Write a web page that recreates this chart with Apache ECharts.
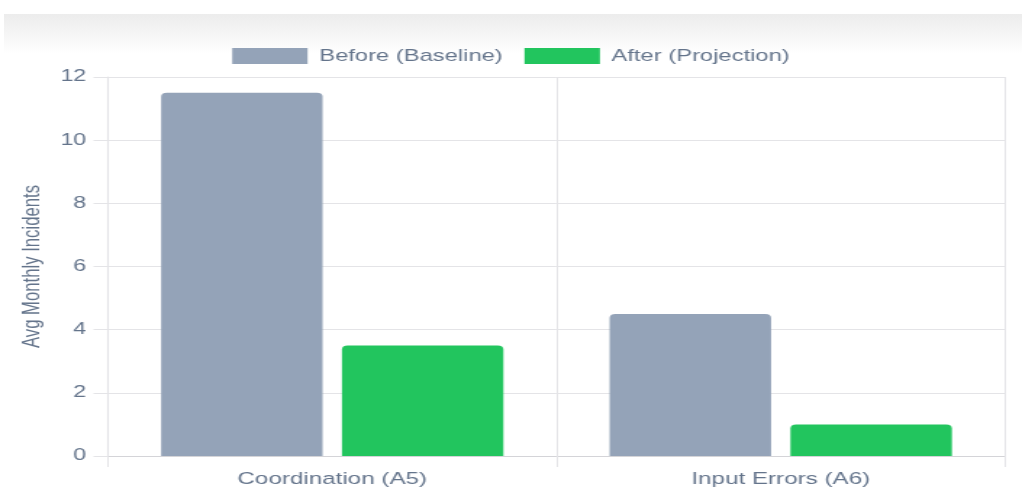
<!DOCTYPE html>
<html>
<head>
	<meta charset="utf-8" />
	<title>Avg Monthly Incidents</title>
	<script src="https://cdn.jsdelivr.net/npm/echarts@6/dist/echarts.min.js"></script>
	<style>
		html, body { margin: 0; padding: 0; background: #fff; overflow: hidden; }
		.shade {
			position: absolute; left: 4px; right: 0; top: 14px; height: 40px;
			background: linear-gradient(to bottom, #ececec, #ffffff);
		}
		/* the reference is drawn on a narrower canvas, then stretched wide */
		#main {
			position: absolute; left: 0; top: 0; width: 705px; height: 488px;
			transform: scaleX(1.4496); transform-origin: 0 0;
		}
	</style>
</head>
<body>
	<div class="shade"></div>
	<div id="main"></div>
	<script type="text/javascript">
		const categories = ['Coordination (A5)', 'Input Errors (A6)'];
		const beforeVals = [11.5, 4.5];
		const afterVals = [3.5, 1.0];
		const seriesNames = ['Before (Baseline)', 'After (Projection)'];

		const textColor = '#64748b';
		const font = '"Liberation Sans", Arial, sans-serif';
		const chart = echarts.init(document.getElementById('main'), null, { renderer: 'canvas' });

		const option = {
			backgroundColor: 'transparent',
			animation: false,
			textStyle: { fontFamily: font },
			legend: {
				data: seriesNames,
				top: 43,
				left: 'center',
				itemWidth: 52,
				itemHeight: 16,
				itemGap: 15,
				icon: 'rect',
				textStyle: { color: textColor, fontSize: 16.4, fontFamily: font, padding: [0, 0, 0, 3] }
			},
			grid: { left: 74.5, right: 11.7, top: 77, bottom: 32 },
			xAxis: {
				type: 'category',
				data: categories,
				axisLine: { show: true, lineStyle: { color: '#d4d4d8' } },
				axisTick: { show: true, length: 11, lineStyle: { color: '#e4e4e7' } },
				splitLine: { show: true, lineStyle: { color: '#e4e4e7' } },
				axisLabel: { color: textColor, fontSize: 16.7, margin: 15, fontFamily: font }
			},
			yAxis: {
				type: 'value',
				min: 0,
				max: 12,
				interval: 2,
				name: 'Avg Monthly Incidents',
				nameLocation: 'middle',
				nameGap: 43,
				nameTextStyle: { color: textColor, fontSize: 16.7, fontFamily: font },
				axisLine: { show: true, lineStyle: { color: '#e4e4e7', width: 1.2 } },
				axisTick: { show: true, length: 10, lineStyle: { color: '#e4e4e7' } },
				splitLine: { show: true, lineStyle: { color: '#e4e4e7' } },
				axisLabel: { color: textColor, fontSize: 16, margin: 15, fontFamily: font }
			},
			series: [
				{
					name: seriesNames[0],
					type: 'bar',
					data: beforeVals,
					barWidth: '36%',
					barGap: '12%',
					itemStyle: { color: '#94a3b8', borderRadius: [4, 4, 0, 0] }
				},
				{
					name: seriesNames[1],
					type: 'bar',
					data: afterVals,
					barWidth: '36%',
					itemStyle: { color: '#22c55e', borderRadius: [4, 4, 0, 0] }
				}
			]
		};

		chart.setOption(option);
		window.onresize = function () { chart.resize(); };
	</script>
</body>
</html>
